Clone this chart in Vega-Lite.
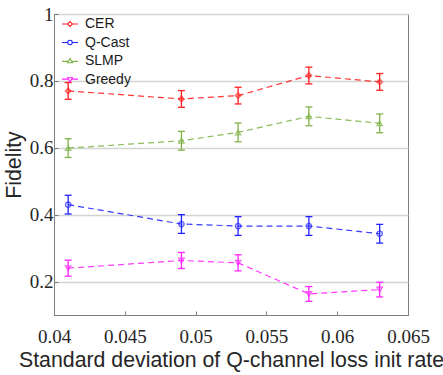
{
  "$schema": "https://vega.github.io/schema/vega-lite/v6.json",
  "width": 354,
  "height": 301,
  "autosize": "none",
  "padding": {"left": 54, "top": 14, "right": 35, "bottom": 60},
  "background": "white",
  "config": {
    "view": {"stroke": "#7f7f7f", "strokeWidth": 1},
    "axis": {
      "labelFont": "Liberation Serif",
      "labelFontSize": 19,
      "labelColor": "#262626",
      "titleFont": "Liberation Sans",
      "titleFontSize": 21.3,
      "titleFontWeight": "normal",
      "titleColor": "#262626",
      "domainColor": "#7f7f7f",
      "tickColor": "#7f7f7f",
      "gridColor": "#d4d4d4",
      "gridWidth": 1.3
    },
    "legend": {"padding": 0}
  },
  "data": {
    "values": [
      {"method": "CER", "x": 0.041, "y": 0.770, "lo": 0.745, "hi": 0.795},
      {"method": "CER", "x": 0.049, "y": 0.746, "lo": 0.721, "hi": 0.771},
      {"method": "CER", "x": 0.053, "y": 0.756, "lo": 0.731, "hi": 0.781},
      {"method": "CER", "x": 0.058, "y": 0.816, "lo": 0.791, "hi": 0.841},
      {"method": "CER", "x": 0.063, "y": 0.797, "lo": 0.772, "hi": 0.822},
      {"method": "Q-Cast", "x": 0.041, "y": 0.430, "lo": 0.402, "hi": 0.458},
      {"method": "Q-Cast", "x": 0.049, "y": 0.372, "lo": 0.344, "hi": 0.400},
      {"method": "Q-Cast", "x": 0.053, "y": 0.366, "lo": 0.338, "hi": 0.394},
      {"method": "Q-Cast", "x": 0.058, "y": 0.366, "lo": 0.338, "hi": 0.394},
      {"method": "Q-Cast", "x": 0.063, "y": 0.343, "lo": 0.315, "hi": 0.371},
      {"method": "SLMP", "x": 0.041, "y": 0.599, "lo": 0.571, "hi": 0.627},
      {"method": "SLMP", "x": 0.049, "y": 0.621, "lo": 0.593, "hi": 0.649},
      {"method": "SLMP", "x": 0.053, "y": 0.646, "lo": 0.618, "hi": 0.674},
      {"method": "SLMP", "x": 0.058, "y": 0.694, "lo": 0.666, "hi": 0.722},
      {"method": "SLMP", "x": 0.063, "y": 0.673, "lo": 0.645, "hi": 0.701},
      {"method": "Greedy", "x": 0.041, "y": 0.240, "lo": 0.216, "hi": 0.264},
      {"method": "Greedy", "x": 0.049, "y": 0.263, "lo": 0.239, "hi": 0.287},
      {"method": "Greedy", "x": 0.053, "y": 0.256, "lo": 0.232, "hi": 0.280},
      {"method": "Greedy", "x": 0.058, "y": 0.163, "lo": 0.141, "hi": 0.185},
      {"method": "Greedy", "x": 0.063, "y": 0.176, "lo": 0.154, "hi": 0.198}
    ]
  },
  "encoding": {
    "x": {
      "field": "x",
      "type": "quantitative",
      "scale": {"domain": [0.04, 0.065], "nice": false, "zero": false},
      "axis": {
        "values": [0.04, 0.045, 0.05, 0.055, 0.06, 0.065],
        "format": "~g",
        "grid": false,
        "tickSize": -4,
        "labelFont": "Liberation Serif",
        "labelFontSize": 19,
        "labelPadding": 16,
        "labelFlush": false,
        "title": "Standard deviation of Q-channel loss init rate",
        "titlePadding": 3
      }
    },
    "color": {
      "field": "method",
      "type": "nominal",
      "scale": {
        "domain": ["CER", "Q-Cast", "SLMP", "Greedy"],
        "range": ["#ff2020", "#2424ff", "#7fb347", "#ff22ff"]
      },
      "legend": {
        "title": null,
        "orient": "none",
        "legendX": 7,
        "legendY": 1,
        "symbolSize": 256,
        "symbolStrokeWidth": 1.1,
        "symbolOpacity": 1,
        "symbolFillColor": "transparent",
        "labelFont": "Liberation Sans",
        "labelFontSize": 14,
        "labelColor": "#1a1a1a",
        "labelOffset": 6,
        "rowPadding": 2.5
      }
    }
  },
  "layer": [
    {
      "mark": {"type": "line", "strokeDash": [6, 4], "strokeWidth": 1.2, "opacity": 0.9},
      "encoding": {
        "y": {
          "field": "y",
          "type": "quantitative",
          "scale": {"domain": [0.1, 1], "nice": false, "zero": false},
          "axis": {
            "values": [0.2, 0.4, 0.6, 0.8, 1],
            "format": "~g",
            "grid": true,
            "tickSize": -4,
            "labelFont": "Liberation Serif",
            "labelFontSize": 19,
            "labelPadding": 5,
            "labelFlush": false,
            "title": "Fidelity",
            "titlePadding": 5
          }
        }
      }
    },
    {
      "mark": {"type": "rule", "strokeWidth": 1.3},
      "encoding": {
        "y": {"field": "lo", "type": "quantitative"},
        "y2": {"field": "hi"}
      }
    },
    {
      "mark": {"type": "rule", "strokeWidth": 1.3, "xOffset": -3.5, "x2Offset": 3.5},
      "encoding": {
        "y": {"field": "lo", "type": "quantitative"},
        "x2": {"field": "x"}
      }
    },
    {
      "mark": {"type": "rule", "strokeWidth": 1.3, "xOffset": -3.5, "x2Offset": 3.5},
      "encoding": {
        "y": {"field": "hi", "type": "quantitative"},
        "x2": {"field": "x"}
      }
    },
    {
      "transform": [{"filter": "datum.method === 'CER'"}],
      "mark": {"type": "point", "shape": "diamond", "filled": false, "size": 30, "strokeWidth": 1.4},
      "encoding": {"y": {"field": "y", "type": "quantitative"}}
    },
    {
      "transform": [{"filter": "datum.method === 'Q-Cast'"}],
      "mark": {"type": "point", "shape": "circle", "filled": false, "size": 28, "strokeWidth": 1.4},
      "encoding": {"y": {"field": "y", "type": "quantitative"}}
    },
    {
      "transform": [{"filter": "datum.method === 'SLMP'"}],
      "mark": {"type": "point", "shape": "triangle-up", "filled": false, "size": 28, "strokeWidth": 1.4},
      "encoding": {"y": {"field": "y", "type": "quantitative"}}
    },
    {
      "transform": [{"filter": "datum.method === 'Greedy'"}],
      "mark": {"type": "point", "shape": "triangle-down", "filled": false, "size": 28, "strokeWidth": 1.4},
      "encoding": {"y": {"field": "y", "type": "quantitative"}}
    },
    {
      "mark": {"type": "point", "filled": false, "opacity": 0},
      "encoding": {
        "y": {"field": "y", "type": "quantitative"},
        "shape": {
          "field": "method",
          "type": "nominal",
          "scale": {
            "domain": ["CER", "Q-Cast", "SLMP", "Greedy"],
            "range": [
              "M-1,0H-0.3M0.3,0H1M0,-0.3L0.3,0L0,0.3L-0.3,0Z",
              "M-1,0H-0.28M0.28,0H1M-0.28,0A0.28,0.28,0,1,1,0.28,0A0.28,0.28,0,1,1,-0.28,0Z",
              "M-1,0.05H-0.3M0.3,0.05H1M0,-0.3L0.32,0.22L-0.32,0.22Z",
              "M-1,-0.05H-0.3M0.3,-0.05H1M0,0.3L0.32,-0.22L-0.32,-0.22Z"
            ]
          },
          "legend": {
            "title": null,
            "orient": "none",
            "legendX": 7,
            "legendY": 1,
            "symbolSize": 256,
            "symbolStrokeWidth": 1.1,
            "symbolOpacity": 1,
            "symbolFillColor": "transparent",
            "labelFont": "Liberation Sans",
            "labelFontSize": 14,
            "labelColor": "#1a1a1a",
            "labelOffset": 6,
            "rowPadding": 2.5
          }
        }
      }
    }
  ]
}
